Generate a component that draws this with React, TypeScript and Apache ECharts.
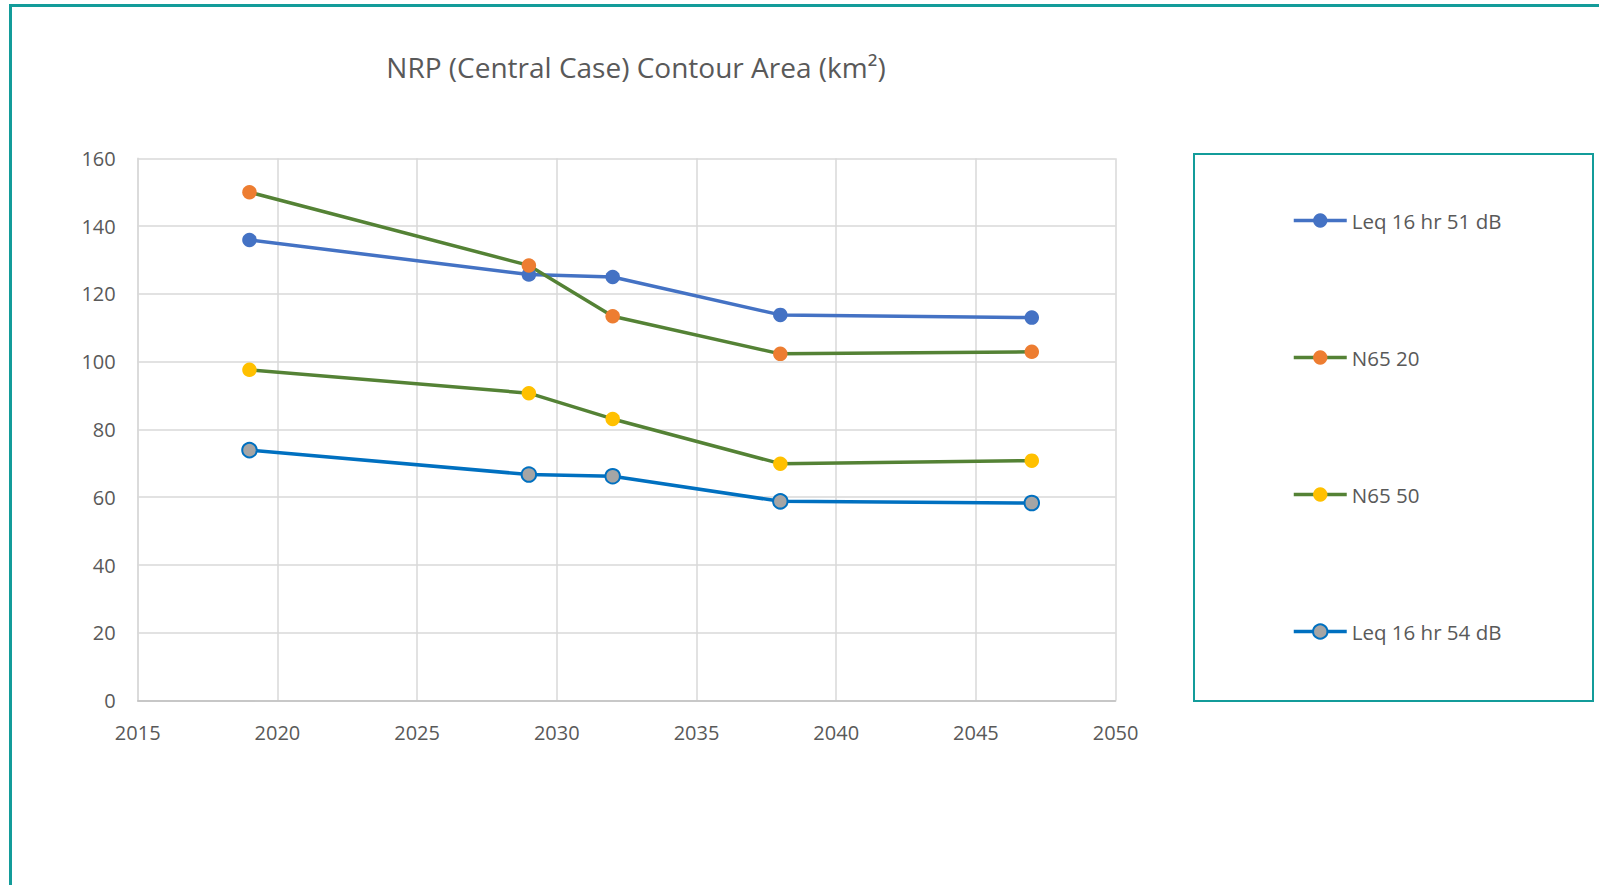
import React, { useEffect, useRef } from "react";
import * as echarts from "echarts";

const years = [2019, 2029, 2032, 2038, 2047];
const leq51 = [135.9, 125.7, 125.0, 113.8, 113.0];
const n65_20 = [150.0, 128.4, 113.4, 102.3, 102.9];
const n65_50 = [97.6, 90.7, 83.1, 69.9, 70.8];
const leq54 = [73.9, 66.7, 66.2, 58.8, 58.3];
const seriesNames = ["Leq 16 hr 51 dB", "N65 20", "N65 50", "Leq 16 hr 54 dB"];
const titleText = "NRP (Central Case) Contour Area (km²)";

const FONT = "'Open Sans', 'Noto Sans', sans-serif";
const TEXT = "#595959";
const TEAL = "#139c9a";

function pairs(vals: number[]) {
  return years.map((y, i) => [y, vals[i]]);
}

export default function App() {
  const ref = useRef<HTMLDivElement>(null);
  useEffect(() => {
    if (!ref.current) return;
    const chart = echarts.init(ref.current, undefined, { renderer: "svg" });
    const lineSeries = (name: string, vals: number[], lineColor: string, fill: string, border?: string) => ({
      name,
      type: "line",
      data: pairs(vals),
      symbol: "circle",
      symbolSize: 14.5,
      showSymbol: true,
      lineStyle: { color: lineColor, width: 3.5 },
      itemStyle: border
        ? { color: fill, borderColor: border, borderWidth: 2 }
        : { color: fill, borderWidth: 0 },
      emphasis: { disabled: true },
    });
    chart.setOption({
      animation: false,
      backgroundColor: "#ffffff",
      textStyle: { fontFamily: FONT },
      grid: { left: 137.7, top: 158.3, width: 977.9, height: 542.3, containLabel: false },
      xAxis: {
        type: "value",
        min: 2015,
        max: 2050,
        interval: 5,
        axisLine: { show: true, onZero: false, lineStyle: { color: "#bfbfbf", width: 1.5 } },
        axisTick: { show: false },
        axisLabel: {
          color: TEXT,
          fontSize: 20,
          fontFamily: FONT,
          margin: 22,
          formatter: (v: number) => String(v),
        },
        splitLine: { show: true, lineStyle: { color: "#d9d9d9", width: 1.5 } },
      },
      yAxis: {
        type: "value",
        min: 0,
        max: 160,
        interval: 20,
        axisLine: { show: true, lineStyle: { color: "#d9d9d9", width: 1.5 } },
        axisTick: { show: false },
        axisLabel: { color: TEXT, fontSize: 20, fontFamily: FONT, margin: 22 },
        splitLine: { show: true, lineStyle: { color: "#d9d9d9", width: 1.5 } },
      },
      legend: {
        orient: "vertical",
        left: 1287,
        top: 205,
        itemWidth: 53,
        itemHeight: 18,
        itemGap: 116,
        data: seriesNames,
        lineStyle: { width: 3.5 },
        textStyle: { color: TEXT, fontSize: 20.5, fontFamily: FONT, lineHeight: 18 },
        selectedMode: false,
      },
      graphic: [
        {
          type: "rect",
          shape: { x: 10.5, y: 5.5, width: 1700, height: 1000 },
          style: { fill: "none", stroke: TEAL, lineWidth: 3 },
          silent: true,
        },
        {
          type: "rect",
          shape: { x: 1194, y: 154, width: 399, height: 547 },
          style: { fill: "none", stroke: TEAL, lineWidth: 2 },
          silent: true,
        },
        {
          type: "text",
          x: 636,
          y: 67,
          style: {
            text: titleText,
            align: "center",
            verticalAlign: "middle",
            fontSize: 28,
            fontFamily: FONT,
            fill: TEXT,
          },
          silent: true,
        },
      ],
      series: [
        lineSeries(seriesNames[0], leq51, "#4472c4", "#4472c4"),
        lineSeries(seriesNames[1], n65_20, "#548235", "#ed7d31"),
        lineSeries(seriesNames[2], n65_50, "#548235", "#ffc000"),
        lineSeries(seriesNames[3], leq54, "#0070c0", "#a5a5a5", "#0070c0"),
      ],
    });
    return () => chart.dispose();
  }, []);
  return (
    <div
      ref={ref}
      style={{ position: "fixed", left: 0, top: 0, width: 1599, height: 885, background: "#fff" }}
    />
  );
}
